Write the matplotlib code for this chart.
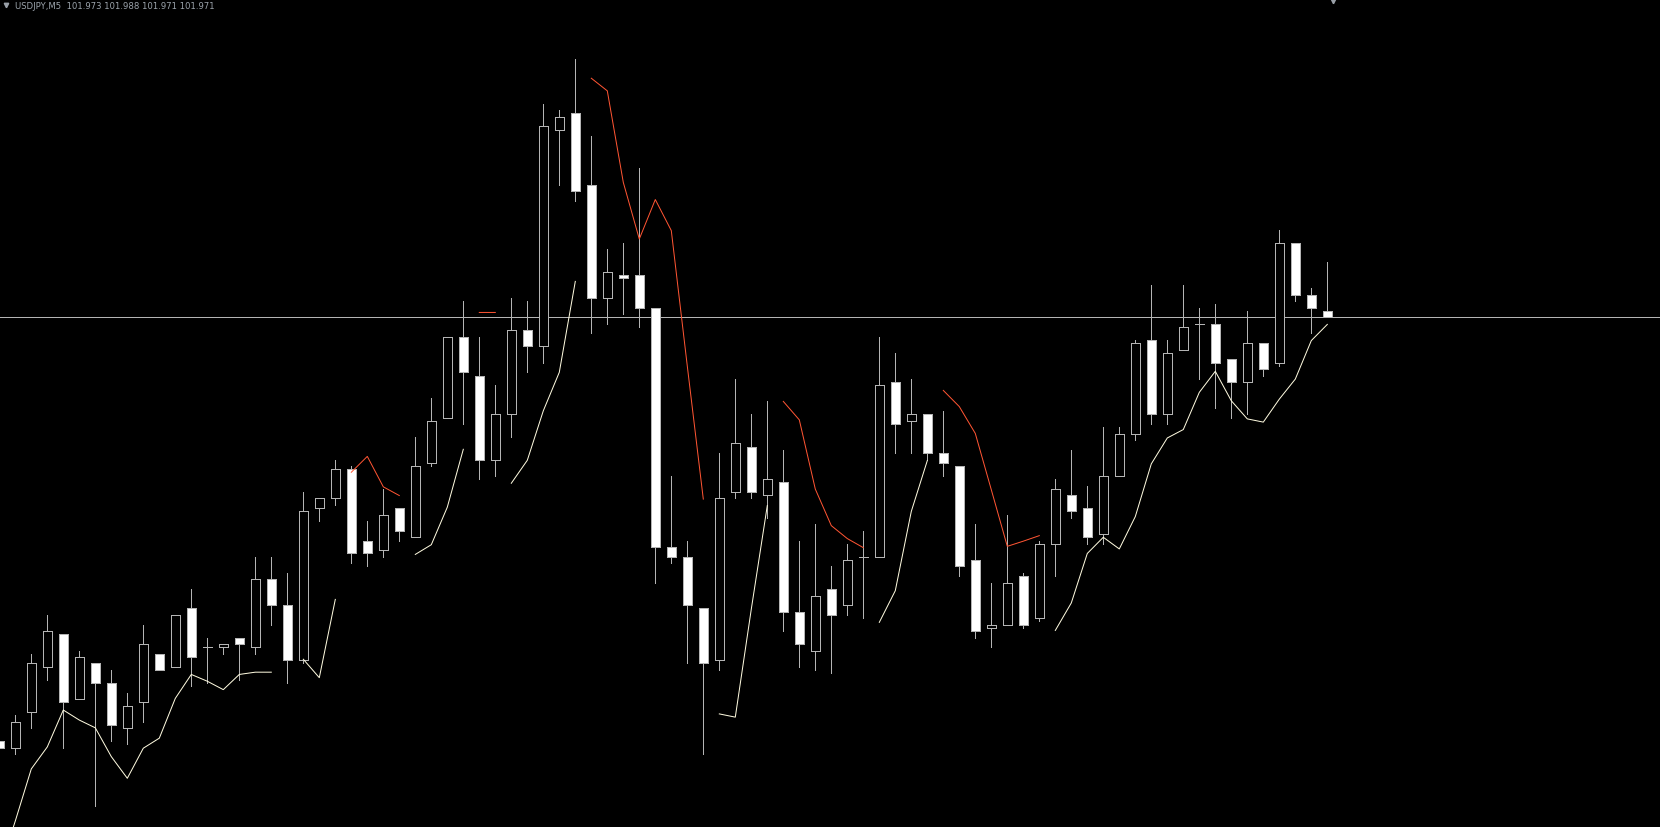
import numpy as np
import matplotlib
matplotlib.use("Agg")
import matplotlib.pyplot as plt
from matplotlib.patches import Rectangle

nan = np.nan

# USDJPY M5 candles (oldest -> newest)
opens = [101.840, 101.838, 101.849, 101.863, 101.873, 101.853, 101.864, 101.858, 101.844, 101.852,
         101.867, 101.863, 101.881, 101.869, 101.869, 101.872, 101.869, 101.890, 101.882, 101.865,
         101.912, 101.915, 101.924, 101.902, 101.899, 101.912, 101.903, 101.926, 101.940, 101.965,
         101.953, 101.927, 101.941, 101.967, 101.962, 102.029, 102.034, 102.012, 101.977, 101.984,
         101.984, 101.974, 101.900, 101.897, 101.881, 101.865, 101.917, 101.931, 101.916, 101.920,
         101.880, 101.868, 101.887, 101.882, 101.897, 101.897, 101.951, 101.939, 101.941, 101.929,
         101.925, 101.896, 101.875, 101.876, 101.891, 101.878, 101.901, 101.916, 101.912, 101.904,
         101.922, 101.935, 101.964, 101.941, 101.961, 101.969, 101.969, 101.958, 101.951, 101.963,
         101.957, 101.994, 101.978, 101.973]
highs = [101.840, 101.848, 101.867, 101.879, 101.873, 101.868, 101.864, 101.862, 101.855, 101.876,
         101.867, 101.879, 101.887, 101.872, 101.870, 101.872, 101.897, 101.897, 101.892, 101.917,
         101.915, 101.927, 101.925, 101.908, 101.918, 101.912, 101.934, 101.946, 101.965, 101.976,
         101.965, 101.950, 101.977, 101.976, 102.037, 102.035, 102.051, 102.027, 101.992, 101.994,
         102.017, 101.974, 101.922, 101.902, 101.881, 101.929, 101.952, 101.941, 101.945, 101.930,
         101.902, 101.907, 101.894, 101.901, 101.905, 101.965, 101.960, 101.952, 101.941, 101.942,
         101.925, 101.907, 101.889, 101.910, 101.892, 101.902, 101.921, 101.930, 101.919, 101.937,
         101.937, 101.964, 101.981, 101.964, 101.981, 101.974, 101.975, 101.958, 101.973, 101.963,
         101.998, 101.994, 101.980, 101.988]
lows = [101.838, 101.836, 101.844, 101.859, 101.838, 101.853, 101.820, 101.840, 101.839, 101.846,
        101.862, 101.863, 101.857, 101.858, 101.867, 101.859, 101.867, 101.876, 101.858, 101.864,
        101.908, 101.913, 101.895, 101.894, 101.897, 101.902, 101.903, 101.925, 101.940, 101.938,
        101.921, 101.922, 101.934, 101.954, 101.957, 102.012, 102.007, 101.966, 101.969, 101.972,
        101.968, 101.889, 101.895, 101.864, 101.836, 101.862, 101.915, 101.915, 101.909, 101.874,
        101.863, 101.862, 101.861, 101.879, 101.878, 101.897, 101.929, 101.929, 101.927, 101.922,
        101.891, 101.872, 101.869, 101.876, 101.875, 101.877, 101.891, 101.909, 101.901, 101.901,
        101.922, 101.933, 101.938, 101.938, 101.961, 101.952, 101.943, 101.940, 101.941, 101.953,
        101.956, 101.976, 101.966, 101.971]
closes = [101.838, 101.846, 101.864, 101.874, 101.852, 101.866, 101.858, 101.845, 101.851, 101.870,
          101.862, 101.879, 101.866, 101.869, 101.870, 101.870, 101.890, 101.882, 101.865, 101.911,
          101.915, 101.924, 101.898, 101.898, 101.910, 101.905, 101.925, 101.939, 101.965, 101.954,
          101.927, 101.941, 101.967, 101.962, 102.030, 102.033, 102.010, 101.977, 101.985, 101.983,
          101.974, 101.900, 101.897, 101.882, 101.864, 101.915, 101.932, 101.917, 101.921, 101.880,
          101.870, 101.885, 101.879, 101.896, 101.897, 101.950, 101.938, 101.941, 101.929, 101.926,
          101.894, 101.874, 101.876, 101.889, 101.876, 101.901, 101.918, 101.911, 101.903, 101.922,
          101.935, 101.963, 101.941, 101.960, 101.968, 101.969, 101.957, 101.951, 101.963, 101.955,
          101.994, 101.978, 101.974, 101.971]

# indicator lines (NaN = no value)
support = [101.800, 101.8153, 101.8314, 101.8382, 101.8496, 101.8465, 101.8441, 101.8352, 101.8285, 101.8378,
           101.8409, 101.8532, 101.8606, 101.8585, 101.8559, 101.8606, 101.8613, 101.8613, nan, 101.8653,
           101.8596, 101.8838, nan, nan, nan, nan, 101.8977, 101.9007, 101.9123, 101.9302,
           nan, nan, 101.9197, 101.9268, 101.9421, 101.9540, 101.9821, nan, nan, nan,
           nan, nan, nan, nan, nan, 101.8484, 101.8474, 101.8808, 101.9128, nan,
           nan, nan, nan, nan, nan, 101.8767, 101.8865, 101.9110, 101.9267, nan,
           nan, nan, nan, nan, nan, nan, 101.8742, 101.8827, 101.8980, 101.9030,
           101.8994, 101.9094, 101.9257, 101.9337, 101.9363, 101.9478, 101.9543, 101.9452, 101.9396, 101.9386,
           101.9457, 101.9519, 101.9638, 101.9688]
resistance = [nan] * 22 + [101.9231, 101.9280, 101.9186, 101.9159, nan, nan, nan, nan,
              101.9725, 101.9725, nan, nan, nan, nan, nan, 102.0449, 102.0410, 102.0127,
              101.9952, 102.0074, 101.9978, 101.9559, 101.9148, nan, nan, nan, nan, 101.9450,
              101.9393, 101.9179, 101.9066, 101.9026, 101.8998, nan, nan, nan, nan, 101.9484,
              101.9434, 101.9351, 101.9177, 101.9002, 101.9018, 101.9035] + [nan] * 18

bid = 101.971
title = "USDJPY,M5  101.973 101.988 101.971 101.971"

W, H = 1660, 828
fig = plt.figure(figsize=(W / 100, H / 100), dpi=100)
fig.patch.set_facecolor("black")
ax = fig.add_axes([0, 0, 1, 1])
ax.set_facecolor("black")
ax.set_axis_off()

px = 0.72  # one pixel in points
edge = "#b4b4b4"
bw = 9 / 16

x = np.arange(len(opens))
for i in x:
    o, h, l, c = opens[i], highs[i], lows[i], closes[i]
    ax.vlines(i, l, h, color=edge, lw=px, antialiased=False, zorder=2)
    if o == c:
        ax.hlines(o, i - bw / 2, i + bw / 2, color=edge, lw=px, antialiased=False, zorder=3)
    else:
        fc = "black" if c > o else "white"
        ax.add_patch(Rectangle((i - bw / 2, min(o, c)), bw, abs(c - o), facecolor=fc,
                               edgecolor=edge, lw=px, antialiased=False, zorder=3))

ax.plot(x, support, color="#fffbe0", lw=px, zorder=4)
ax.plot(x, resistance, color="#ff5533", lw=px, zorder=4)
ax.axhline(bid, color="#b4b4b4", lw=px, zorder=1)

# pixel-based limits: candle i sits at -0.7 + 16 i, bid line at y=318.3, 3235 px per unit
ax.set_xlim(0.7 / 16, (W + 0.7) / 16)
ax.set_ylim(bid - (H - 318.3) / 3235, bid + 318.3 / 3235)

ax.text(14.5 / W, 1 - 6.5 / H, title, transform=ax.transAxes, color="#9ca4ac",
        fontsize=6.1, family="DejaVu Sans", va="center", ha="left")
ax.plot([5.5 / W], [1 - 5.5 / H], marker="v", ms=3.2, color="#9aa0a8", transform=ax.transAxes,
        clip_on=False)
ax.plot([1332.5 / W], [1 - 1.5 / H], marker="v", ms=3.2, color="#9aa0a8", transform=ax.transAxes,
        clip_on=False)

fig.savefig("out.png", dpi=100, facecolor="black")
